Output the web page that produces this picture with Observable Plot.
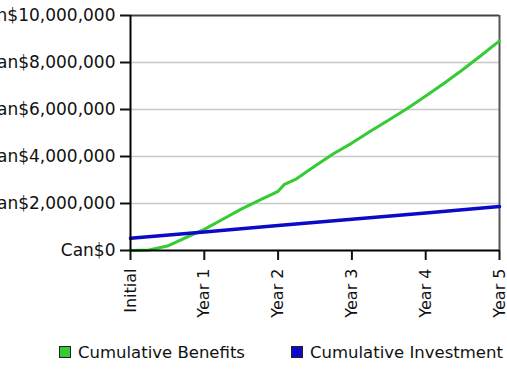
<!DOCTYPE html>
<html>
<head>
<meta charset="utf-8">
<script src="https://cdn.jsdelivr.net/npm/d3@7"></script>
<script src="https://cdn.jsdelivr.net/npm/@observablehq/plot@0.6"></script>
<style>
  html, body { margin: 0; padding: 0; background: #fff; }
  body { width: 507px; height: 369px; overflow: hidden; font-family: "DejaVu Sans", Verdana, sans-serif; }
  #legend { display: flex; align-items: center; height: 34px; padding-left: 59px; gap: 46px; white-space: nowrap; font-size: 16.5px; color: #111; }
  .item { display: flex; align-items: center; gap: 7px; }
  .swatch { width: 10px; height: 10px; border: 1px solid #222; }
</style>
</head>
<body>
<div id="chart"></div>
<div id="legend"></div>
<script>
// Year positions and tick labels along the horizontal axis
const xTickYears = [0, 1, 2, 3, 4, 5];
const xTickLabels = ["Initial", "Year 1", "Year 2", "Year 3", "Year 4", "Year 5"];

// Dollar ticks on the vertical axis
const yTicks = [0, 2000000, 4000000, 6000000, 8000000, 10000000];

// Cumulative benefits, sampled through the five years
const benefitYears = [0, 0.25, 0.5, 0.75, 1, 1.25, 1.5, 1.75, 2, 2.08, 2.25, 2.5, 2.75, 3, 3.25, 3.5, 3.75, 4, 4.25, 4.5, 4.75, 5];
const benefitValues = [0, 20000, 190000, 550000, 900000, 1330000, 1760000, 2140000, 2520000, 2800000, 3050000, 3600000, 4120000, 4570000, 5070000, 5550000, 6040000, 6570000, 7120000, 7690000, 8300000, 8920000];

// Cumulative investment at each year
const investmentYears = [0, 1, 2, 3, 4, 5];
const investmentValues = [520000, 790000, 1060000, 1330000, 1600000, 1870000];

const seriesNames = ["Cumulative Benefits", "Cumulative Investment"];
const seriesColors = ["#33cc33", "#0a0ac8"];

const benefits = benefitYears.map((t, i) => ({t, v: benefitValues[i]}));
const investment = investmentYears.map((t, i) => ({t, v: investmentValues[i]}));

const money = d3.format(",");

const chart = Plot.plot({
  width: 507,
  height: 335,
  marginLeft: 130,
  marginRight: 8,
  marginTop: 15,
  marginBottom: 85,
  style: {fontFamily: "DejaVu Sans, Verdana, sans-serif", fontSize: "16px", color: "#111", background: "#fff"},
  x: {domain: [0, 5]},
  y: {domain: [0, 10000000]},
  marks: [
    Plot.ruleY(yTicks.slice(1, -1), {stroke: "#c8c8c8", strokeWidth: 1.5}),
    Plot.ruleY([yTicks[yTicks.length - 1]], {stroke: "#444", strokeWidth: 2}),
    Plot.ruleX([5], {stroke: "#555", strokeWidth: 2}),
    Plot.line(benefits, {x: "t", y: "v", stroke: seriesColors[0], strokeWidth: 3}),
    Plot.line(investment, {x: "t", y: "v", stroke: seriesColors[1], strokeWidth: 3.5}),
    Plot.ruleX([0], {stroke: "#000", strokeWidth: 2}),
    Plot.ruleY([0], {stroke: "#000", strokeWidth: 2}),
    Plot.axisY(yTicks, {tickSize: 10, tickPadding: 5, strokeWidth: 2, label: null, fontSize: 17,
      tickFormat: d => "Can$" + money(d)}),
    Plot.axisX(xTickYears, {tickSize: 10, tickPadding: 8, tickRotate: -90, strokeWidth: 2, label: null, fontSize: 16,
      tickFormat: d => xTickLabels[xTickYears.indexOf(d)]})
  ]
});
document.getElementById("chart").appendChild(chart);

const legend = document.getElementById("legend");
seriesNames.forEach((name, i) => {
  const item = document.createElement("div");
  item.className = "item";
  const sw = document.createElement("span");
  sw.className = "swatch";
  sw.style.background = seriesColors[i];
  const label = document.createElement("span");
  label.textContent = name;
  item.appendChild(sw);
  item.appendChild(label);
  legend.appendChild(item);
});
</script>
</body>
</html>
